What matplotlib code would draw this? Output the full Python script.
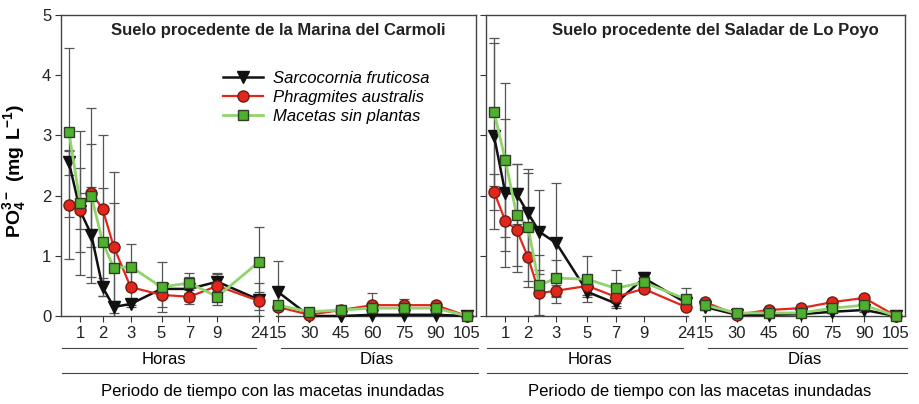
# -*- coding: utf-8 -*-
import numpy as np
import matplotlib
matplotlib.use('Agg')
import matplotlib.pyplot as plt
from matplotlib.lines import Line2D

plt.rcParams['font.family'] = ['Liberation Sans', 'DejaVu Sans']
plt.rcParams['mathtext.fontset'] = 'custom'
plt.rcParams['mathtext.rm'] = 'Liberation Sans'
plt.rcParams['mathtext.bf'] = 'Liberation Sans:bold'

# sampling times
hours = [0.5, 1, 1.5, 2, 2.5, 3, 5, 7, 9, 24]
days = [15, 30, 45, 60, 75, 90, 105]
hour_ticks = [1, 2, 3, 5, 7, 9, 24]

# Suelo procedente de la Marina del Carmoli
sf_carm = [2.55, 1.75, 1.35, 0.48, 0.15, 0.20, 0.45, 0.45, 0.57, 0.27,
           0.40, 0.00, 0.00, 0.02, 0.02, 0.02, 0.00]
pa_carm = [1.84, 1.76, 2.05, 1.78, 1.15, 0.48, 0.35, 0.32, 0.50, 0.25,
           0.15, 0.02, 0.10, 0.18, 0.18, 0.18, 0.00]
ms_carm = [3.05, 1.88, 2.00, 1.23, 0.80, 0.82, 0.48, 0.55, 0.32, 0.90,
           0.18, 0.07, 0.10, 0.13, 0.13, 0.13, 0.00]
sf_carm_err = [0.20, 0.30, 0.80, 0.15, 0.10, 0.05, 0.10, 0.20, 0.15, 0.27,
               0.52, 0.02, 0.02, 0.02, 0.02, 0.02, 0.01]
pa_carm_err = [0.90, 0.70, 1.40, 1.22, 1.25, 0.30, 0.20, 0.12, 0.20, 0.15,
               0.05, 0.02, 0.03, 0.20, 0.10, 0.05, 0.01]
ms_carm_err = [1.40, 1.20, 0.85, 0.90, 1.08, 0.38, 0.42, 0.17, 0.14, 0.58,
               0.05, 0.03, 0.03, 0.05, 0.05, 0.05, 0.01]

# Suelo procedente del Saladar de Lo Poyo
sf_poyo = [2.99, 2.04, 2.03, 1.71, 1.40, 1.21, 0.40, 0.21, 0.63, 0.22,
           0.15, 0.02, 0.02, 0.03, 0.07, 0.10, 0.00]
pa_poyo = [2.06, 1.58, 1.43, 0.98, 0.38, 0.42, 0.50, 0.32, 0.45, 0.15,
           0.23, 0.02, 0.10, 0.13, 0.23, 0.30, 0.00]
ms_poyo = [3.39, 2.59, 1.68, 1.48, 0.51, 0.63, 0.61, 0.46, 0.56, 0.28,
           0.18, 0.05, 0.05, 0.05, 0.13, 0.18, 0.00]
sf_poyo_err = [1.55, 1.23, 0.50, 0.73, 0.70, 1.00, 0.08, 0.08, 0.10, 0.05,
               0.05, 0.02, 0.02, 0.02, 0.02, 0.03, 0.01]
pa_poyo_err = [0.30, 0.50, 0.70, 0.50, 0.38, 0.10, 0.15, 0.10, 0.05, 0.05,
               0.05, 0.02, 0.02, 0.02, 0.03, 0.03, 0.01]
ms_poyo_err = [1.23, 1.28, 0.85, 0.90, 0.50, 0.30, 0.38, 0.30, 0.13, 0.18,
               0.05, 0.02, 0.02, 0.02, 0.03, 0.03, 0.01]

labels = ['Sarcocornia fruticosa', 'Phragmites australis', 'Macetas sin plantas']


def pos_hours(h):
    # hand drawn spacing of the hours segment
    return np.interp(h, [0.5, 2.5, 3, 5, 9, 24], [8, 53, 70, 101, 157, 199])


def pos_days(d):
    return np.interp(d, [15, 105], [218, 408])


styles = [
    dict(color='#111111', marker='v', ms=8.5, mfc='#111111', mec='#111111', lw=1.8),
    dict(color='#e3261c', marker='o', ms=8, mfc='#e3261c', mec='#6e1d14', mew=1.0, lw=1.6),
    dict(color='#8fd46c', marker='s', ms=7.5, mfc='#4fb02f', mec='#2f3f24', mew=1.0, lw=2.0),
]


def draw_panel(ax, series, errs, title, title_x, show_ylabels):
    xh = pos_hours(hours)
    xd = pos_days(days)
    nh = len(hours)
    handles = []
    for i, (vals, err) in enumerate(zip(series, errs)):
        vals = np.array(vals)
        err = np.array(err)
        x_all = np.concatenate([xh, xd])
        ax.errorbar(x_all, vals, yerr=err, fmt='none', ecolor='#555555',
                    elinewidth=0.9, capsize=3.5, capthick=0.9, zorder=1)
        st = styles[i]
        h, = ax.plot(xh, vals[:nh], clip_on=False, zorder=3 + i, **st)
        ax.plot(xd, vals[nh:], clip_on=False, zorder=3 + i, **st)
        handles.append(h)

    ax.set_xlim(0, 417)
    ax.set_ylim(0, 5)
    ax.set_xticks(list(pos_hours(hour_ticks)) + list(xd))
    ax.set_xticklabels([str(t) for t in hour_ticks] + [str(d) for d in days],
                       fontsize=12)
    ax.set_yticks([0, 1, 2, 3, 4, 5])
    if show_ylabels:
        ax.set_yticklabels(['0', '1', '2', '3', '4', '5'], fontsize=12)
    else:
        ax.set_yticklabels([])
    ax.tick_params(direction='out', length=4, width=0.8, colors='#333333',
                   labelcolor='#222222', pad=3)

    for side in ['top', 'left', 'right']:
        ax.spines[side].set_color('#444444')
        ax.spines[side].set_linewidth(1.0)
    ax.spines['bottom'].set_visible(False)

    # broken bottom axis
    tr = ax.get_xaxis_transform()
    for a, b in [(0, 201), (216, 417)]:
        ax.plot([a, b], [0, 0], transform=tr, color='#444444', lw=1.0,
                clip_on=False, zorder=2)

    # brackets under the axis
    for a, b, y in [(1, 196, -0.105), (221, 419, -0.105), (1, 419, -0.19)]:
        ax.add_line(Line2D([a, b], [y, y], transform=tr, color='#444444',
                           lw=0.8, clip_on=False))
    ax.text(103, -0.146, 'Horas', transform=tr, ha='center', va='center', fontsize=12)
    ax.text(317, -0.146, 'Días', transform=tr, ha='center', va='center', fontsize=12)
    ax.text(213, -0.252, 'Periodo de tiempo con las macetas inundadas',
            transform=tr, ha='center', va='center', fontsize=12)

    ax.text(title_x, 0.95, title, transform=ax.transAxes, ha='center',
            va='center', fontsize=12, fontweight='bold', color='#222222')
    return handles


fig = plt.figure(figsize=(9.2, 4.04), dpi=100)
ax1 = fig.add_axes([61 / 920, 88 / 404, 415 / 920, 301 / 404])
ax2 = fig.add_axes([486 / 920, 88 / 404, 419 / 920, 301 / 404])

handles = draw_panel(ax1, [sf_carm, pa_carm, ms_carm],
                     [sf_carm_err, pa_carm_err, ms_carm_err],
                     'Suelo procedente de la Marina del Carmoli', 0.523, True)
draw_panel(ax2, [sf_poyo, pa_poyo, ms_poyo],
           [sf_poyo_err, pa_poyo_err, ms_poyo_err],
           'Suelo procedente del Saladar de Lo Poyo', 0.547, False)

ax1.set_ylabel(r'$\mathbf{PO_4^{3-}\ (mg\ L^{-1})}$', fontsize=14)
ax1.yaxis.set_label_coords(-0.08, 0.48)

ax1.legend(handles, labels, loc='upper left', bbox_to_anchor=(0.39, 0.815),
           frameon=False, prop={'style': 'italic', 'size': 12},
           handlelength=2.4, handletextpad=0.6, labelspacing=0.25,
           borderpad=0, borderaxespad=0)

fig.savefig('out.png', dpi=100)
